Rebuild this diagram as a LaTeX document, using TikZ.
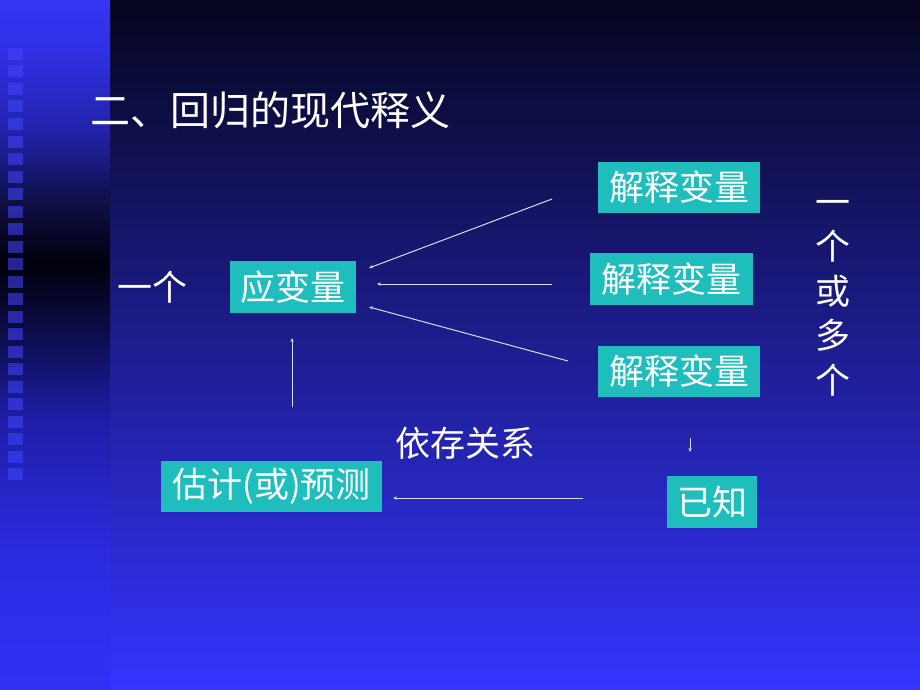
\documentclass[tikz,border=0pt]{standalone}
\usepackage{fontspec}
\newfontfamily\cjk{Noto Sans CJK SC}
\usetikzlibrary{arrows.meta}
\definecolor{bgtop}{HTML}{06061F}
\definecolor{bgbot}{HTML}{3434FF}
\definecolor{boxc}{HTML}{20BDBD}
\definecolor{linec}{HTML}{DCDCF0}
\definecolor{sqc}{HTML}{4444FF}
\definecolor{s0}{HTML}{3030F4}
\definecolor{s1}{HTML}{2C2CE4}
\definecolor{s2}{HTML}{1E1EA8}
\definecolor{s3}{HTML}{0C0C48}
\definecolor{s4}{HTML}{00000C}
\definecolor{s5}{HTML}{101048}
\definecolor{s6}{HTML}{2222AC}
\definecolor{s7}{HTML}{3030E4}
\definecolor{s8}{HTML}{3434F4}
\pgfdeclareverticalshading{stripshade}{100bp}{color(0bp)=(s0); color(25bp)=(s0); color(34bp)=(s1); color(44.6bp)=(s2); color(51bp)=(s3); color(55.9bp)=(s4); color(60.5bp)=(s5); color(65.6bp)=(s6); color(71.4bp)=(s7); color(75bp)=(s8); color(100bp)=(s8)}
\tikzset{
  tx/.style={text=white, font=\cjk\fontsize{35}{42}\selectfont, inner sep=0pt},
  box/.style={tx, fill=boxc, minimum height=52pt},
  arr/.style={draw=linec, line width=1pt, -{Stealth[length=4pt,width=3.4pt]}},
  sq/.style={fill=sqc, fill opacity=0.55}
}
\begin{document}
\begin{tikzpicture}[x=1pt,y=-1pt]
\useasboundingbox (0,0) rectangle (920,690);
\shade[top color=bgtop,bottom color=bgbot] (110,0) rectangle (920,690);
\shade[shading=stripshade] (0,0) rectangle (110,690);
\foreach \k in {0,...,24} \fill[sq] (8,48+17.5*\k) rectangle ++(15,12);

\node[tx, font=\cjk\fontsize{40}{48}\selectfont, anchor=west] (title) at (90,110) {二、回归的现代释义};

\node[box, minimum width=126pt] (dep) at (293,287) {应变量};
\node[box, minimum width=162pt, minimum height=51pt] (e1) at (679,187.5) {解释变量};
\node[box, minimum width=163pt] (e2) at (671.5,279) {解释变量};
\node[box, minimum width=162pt, minimum height=51pt] (e3) at (679,371.5) {解释变量};
\node[box, minimum width=221pt, minimum height=51pt] (est) at (271.5,486.5) {估计(或)预测};
\node[box, minimum width=90pt] (known) at (712,502) {已知};

\node[tx] (one) at (152,287) {一个};
\node[tx] (rel) at (465,443) {依存关系};
\node[tx, align=center, font=\cjk\fontsize{35}{44.5}\selectfont] (many) at (833,298) {一\\个\\或\\多\\个};

\coordinate (a1s) at (552,199);
\coordinate (a1e) at (369,268);
\coordinate (a2s) at (552,284);
\coordinate (a2e) at (377,284);
\coordinate (a3s) at (568,361);
\coordinate (a3e) at (369,307);
\coordinate (a4s) at (292,407);
\coordinate (a4e) at (292,338);
\coordinate (a5s) at (583,498);
\coordinate (a5e) at (393,498);
\coordinate (a6s) at (690,438);
\coordinate (a6e) at (690,452);

\draw[arr] (a1s) -- (a1e);
\draw[arr] (a2s) -- (a2e);
\draw[arr] (a3s) -- (a3e);
\draw[arr] (a4s) -- (a4e);
\draw[arr] (a5s) -- (a5e);
\draw[arr] (a6s) -- (a6e);
\end{tikzpicture}
\end{document}
